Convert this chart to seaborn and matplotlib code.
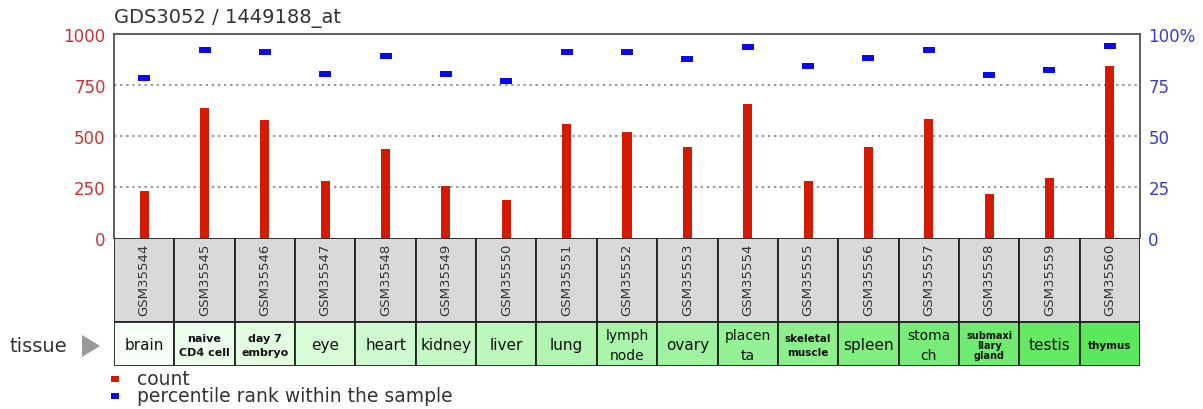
import numpy as np
import pandas as pd
import matplotlib
matplotlib.use("Agg")
import matplotlib.pyplot as plt
from matplotlib.patches import Rectangle, Polygon
import seaborn as sns

samples = ["GSM35544", "GSM35545", "GSM35546", "GSM35547", "GSM35548", "GSM35549",
           "GSM35550", "GSM35551", "GSM35552", "GSM35553", "GSM35554", "GSM35555",
           "GSM35556", "GSM35557", "GSM35558", "GSM35559", "GSM35560"]
tissues = ["brain", "naive\nCD4 cell", "day 7\nembryo", "eye", "heart", "kidney",
           "liver", "lung", "lymph\nnode", "ovary", "placen\nta", "skeletal\nmuscle",
           "spleen", "stoma\nch", "submaxi\nllary\ngland", "testis", "thymus"]
counts = [230, 637, 576, 280, 436, 256, 184, 559, 522, 444, 655, 280, 444, 583, 215, 292, 842]
percentiles = [78.4, 92.3, 91.2, 80.2, 89.4, 80.2, 76.8, 91.2, 91.2, 87.6, 93.6, 84.5,
               88.2, 92.3, 79.7, 82.2, 94.1]
left_ticks = [0, 250, 500, 750, 1000]
right_ticks = [0, 25, 50, 75, 100]
right_labels = ["0", "25", "50", "75", "100%"]

# tissue label styling (size, weight)
tissue_style = {
    "naive\nCD4 cell": (8, "bold"), "day 7\nembryo": (8, "bold"),
    "lymph\nnode": (10, "normal"), "placen\nta": (10, "normal"),
    "skeletal\nmuscle": (7.5, "bold"), "stoma\nch": (10, "normal"),
    "submaxi\nllary\ngland": (7, "bold"), "thymus": (7.5, "bold"),
}

W, H = 1203, 410
fig = plt.figure(figsize=(W / 100, H / 100), dpi=100)
sns.set_style("white")
plt.rcParams['font.family'] = ['DejaVu Sans']

def fx(px):
    return px / W

def fy(py):
    return 1 - py / H

L, R, T, B = 114, 1140, 35, 239
ax = fig.add_axes([fx(L), fy(B), fx(R) - fx(L), fy(T) - fy(B)])
df = pd.DataFrame({"sample": samples, "count": counts, "pct": percentiles,
                   "pos": np.arange(len(samples))})
sns.barplot(data=df, x="sample", y="count", order=samples, color="#d41a00",
            saturation=1, width=0.15, ax=ax, linewidth=0)
ax.set_xlim(-0.5, len(samples) - 0.5)
ax.set_ylim(0, 1000)
ax.set_yticks(left_ticks)
ax.set_yticklabels([str(t) for t in left_ticks], color="#d03030", fontsize=12)
ax.set_xticks([])
ax.set_xlabel("")
ax.set_ylabel("")
ax.tick_params(axis="y", length=0, pad=6)
for yv in [250, 500, 750]:
    ax.axhline(yv, color="#777777", linestyle=(0, (1.5, 2.5)), linewidth=1.1, zorder=0)
for s in ax.spines.values():
    s.set_color("#444444")
    s.set_linewidth(1.2)
ax.spines["bottom"].set_visible(False)

axr = ax.twinx()
rect_marker = [(-1, -0.5), (1, -0.5), (1, 0.5), (-1, 0.5)]
sns.scatterplot(data=df, x="pos", y="pct", marker=rect_marker, s=75, color="#0a0af0",
                edgecolor="none", ax=axr, legend=False)
axr.set_ylim(0, 100)
axr.set_xlim(-0.5, len(samples) - 0.5)
axr.set_yticks(right_ticks)
axr.set_yticklabels(right_labels, color="#3a3ad0", fontsize=12)
axr.tick_params(axis="y", length=0, pad=6)
axr.set_ylabel("")
axr.set_xlabel("")
axr.set_xticks([])
for s in axr.spines.values():
    s.set_visible(False)

fig.text(fx(114), fy(18), "GDS3052 / 1449188_at", fontsize=14, color="#333333",
         va="center", ha="left")

# lower boxes
BOT = 367
axb = fig.add_axes([fx(L), fy(BOT), fx(R) - fx(L), fy(B) - fy(BOT)])
axb.set_xlim(-0.5, len(samples) - 0.5)
axb.set_ylim(BOT - B, 0)
axb.axis("off")
split = 323 - B
n = len(samples)
c0 = np.array([0.96, 1.0, 0.96])
c1 = np.array([0.36, 0.91, 0.36])
for i, (smp, tis) in enumerate(zip(samples, tissues)):
    axb.add_patch(Rectangle((i - 0.5, 0), 1, split, facecolor="#d9d9d9",
                            edgecolor="#222222", linewidth=1.3))
    col = c0 + (c1 - c0) * (i / (n - 1))
    axb.add_patch(Rectangle((i - 0.5, split), 1, BOT - B - split, facecolor=col,
                            edgecolor="#222222", linewidth=1.3))
    axb.text(i, 5, smp, rotation=90, ha="center", va="top", fontsize=9.5,
             color="#333333", family=["DejaVu Sans Condensed", "Liberation Sans Narrow", "DejaVu Sans"])
    nlines = tis.count("\n") + 1
    fs, fw = tissue_style.get(tis, (11, "normal"))
    ls = {1: 1.2, 2: 1.6, 3: 1.05}[nlines]
    axb.text(i, (split + BOT - B) / 2 + 1, tis, ha="center", va="center", fontsize=fs,
             fontweight=fw, color="#111111", linespacing=ls)

fig.text(fx(10), fy(347), "tissue", fontsize=14, color="#333333", va="center", ha="left")
fig.patches.append(Polygon([[fx(82), fy(336)], [fx(82), fy(358)], [fx(100), fy(347)]],
                           closed=True, facecolor="#999999", edgecolor="none",
                           transform=fig.transFigure, figure=fig))

# legend
fig.patches.append(Rectangle((fx(111), fy(383)), fx(8), fy(377) - fy(383),
                             facecolor="#d41a00", edgecolor="none",
                             transform=fig.transFigure, figure=fig))
fig.patches.append(Rectangle((fx(111), fy(400)), fx(8), fy(394) - fy(400),
                             facecolor="#0a0af0", edgecolor="none",
                             transform=fig.transFigure, figure=fig))
fig.text(fx(137), fy(380), "count", fontsize=13.5, color="#333333", va="center", ha="left")
fig.text(fx(137), fy(397), "percentile rank within the sample", fontsize=13.5,
         color="#333333", va="center", ha="left")

fig.savefig("out.png", dpi=100)
